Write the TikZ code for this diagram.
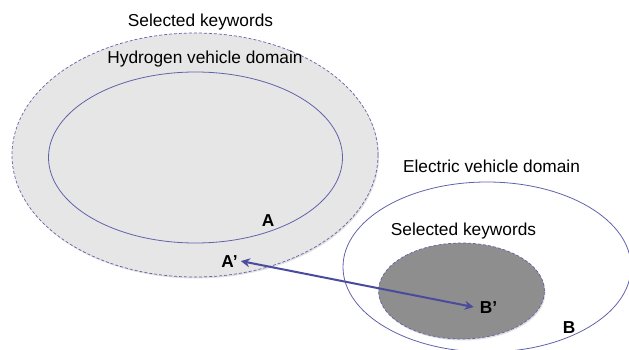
\documentclass[tikz,border=0pt]{standalone}
\usepackage{fontspec}
\setmainfont{Liberation Sans}
\usetikzlibrary{shapes.geometric,arrows.meta,shadows}
\definecolor{edgeblue}{HTML}{6262AA}
\definecolor{arrowblue}{HTML}{4A4A9E}
\definecolor{lightfill}{HTML}{E6E6E6}
\definecolor{darkfill}{HTML}{8E8E8E}
\begin{document}
\begin{tikzpicture}[x=1pt,y=-1pt,
  region/.style={ellipse, inner sep=0pt, line width=0.8pt},
  dashedregion/.style={region, draw=edgeblue, densely dashed, line width=0.7pt},
  solidregion/.style={region, draw=edgeblue},
  lbl/.style={font=\fontsize{17.3}{20}\selectfont, anchor=base, inner sep=0pt},
  letterlbl/.style={font=\fontsize{17.3}{20}\selectfont\bfseries, anchor=base, inner sep=2pt},
  link/.style={draw=arrowblue, line width=2pt, {Stealth[length=9pt,width=9pt,inset=3pt]}-{Stealth[length=9pt,width=9pt,inset=3pt]}}
]
\useasboundingbox (0,0) rectangle (629,350);
\begin{scope}
\clip (0,0) rectangle (629,350);
\node[dashedregion, fill=lightfill, minimum width=366pt, minimum height=244pt,
  drop shadow={shadow xshift=1pt, shadow yshift=-1.5pt, opacity=0.25}] (outer) at (195,155) {};
\node[solidregion, minimum width=294pt, minimum height=171pt] (inner) at (195.5,157.5) {};
\node[solidregion, minimum width=288pt, minimum height=170pt] (elec) at (487,267) {};
\node[dashedregion, fill=darkfill, minimum width=166pt, minimum height=96pt,
  drop shadow={shadow xshift=1pt, shadow yshift=-1.5pt, opacity=0.25}] (sel) at (461.5,291) {};
\end{scope}
\node[lbl] (t1) at (200.5,27) {Selected keywords};
\node[lbl] (t2) at (205,64) {Hydrogen vehicle domain};
\node[lbl] (t3) at (491.5,172) {Electric vehicle domain};
\node[lbl] (t4) at (463.5,235) {Selected keywords};
\node[letterlbl] (a) at (268,226) {A};
\node[letterlbl] (ap) at (229.5,267) {A’};
\node[letterlbl] (bp) at (488.5,313) {B’};
\node[letterlbl] (b) at (569,333) {B};
\draw[link] ([xshift=1pt]ap.east) -- ([xshift=-4pt]bp.west);
\end{tikzpicture}
\end{document}
